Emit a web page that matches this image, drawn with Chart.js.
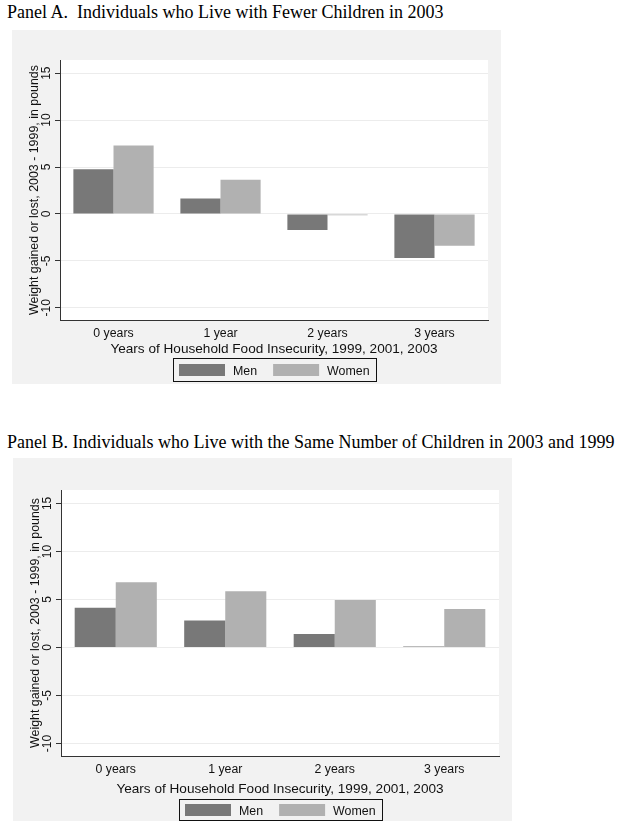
<!DOCTYPE html>
<html>
<head>
<meta charset="utf-8">
<script src="https://cdn.jsdelivr.net/npm/chart.js"></script>
<style>
  body { margin: 0; background: #fff; width: 621px; height: 829px; position: relative; overflow: hidden; }
  .ttl { position: absolute; left: 7px; font-family: "Liberation Serif", "Times New Roman", serif; font-size: 18px; line-height: 20px; white-space: pre; color: #000; }
  canvas { position: absolute; }
</style>
</head>
<body>
<div class="ttl" style="top:2px">Panel A.  Individuals who Live with Fewer Children in 2003</div>
<canvas id="panelA" width="489" height="354" style="left:12px;top:30px"></canvas>
<div class="ttl" style="top:432px">Panel B. Individuals who Live with the Same Number of Children in 2003 and 1999</div>
<canvas id="panelB" width="499" height="363" style="left:13px;top:458px"></canvas>
<script>
const categories = ["0 years", "1 year", "2 years", "3 years"];
const seriesNames = ["Men", "Women"];
// panel A: fewer children in 2003
const menA = [4.75, 1.65, -1.7, -4.7];
const womenA = [7.3, 3.65, -0.15, -3.4];
// panel B: same number of children
const menB = [4.15, 2.8, 1.4, 0.1];
const womenB = [6.8, 5.85, 4.95, 4.0];
const yTicks = [-10, -5, 0, 5, 10, 15];
const yTitle = "Weight gained or lost, 2003 - 1999, in pounds";
const xTitle = "Years of Household Food Insecurity, 1999, 2001, 2003";

Chart.defaults.font.family = '"Liberation Sans", Arial, sans-serif';

// stata-ish look: gray frame, rotated y labels, x title and boxed legend
const decor = {
  id: "decor",
  beforeDraw(chart) {
    const ctx = chart.ctx, a = chart.chartArea;
    ctx.save();
    ctx.fillStyle = "#f2f2f2";
    ctx.fillRect(0, 0, chart.width, chart.height);
    ctx.fillStyle = "#fff";
    ctx.fillRect(a.left, a.top, a.right - a.left, a.bottom - a.top);
    ctx.restore();
  },
  afterDraw(chart, args, opts) {
    const ctx = chart.ctx, a = chart.chartArea, y = chart.scales.y;
    ctx.save();
    ctx.fillStyle = "#111";
    ctx.textAlign = "center";
    ctx.textBaseline = "alphabetic";
    ctx.font = '12px "Liberation Sans"';
    y.ticks.forEach(t => {
      ctx.save();
      ctx.translate(a.left - 10, y.getPixelForValue(t.value));
      ctx.rotate(-Math.PI / 2);
      ctx.fillText(String(t.value), 0, 0);
      ctx.restore();
    });
    ctx.font = '12.4px "Liberation Sans"';
    ctx.save();
    ctx.translate(a.left - 22, (a.top + a.bottom) / 2);
    ctx.rotate(-Math.PI / 2);
    ctx.fillText(yTitle, 0, 0);
    ctx.restore();

    ctx.font = '13.6px "Liberation Sans"';
    ctx.fillText(xTitle, (a.left + a.right) / 2, a.bottom + opts.xTitleBase);

    // legend
    ctx.font = '12.4px "Liberation Sans"';
    const sw = 46, sh = 12, pad = 6, gap = 8, itemGap = 16;
    const ds = chart.data.datasets;
    let w = pad * 2;
    ds.forEach((d, i) => { w += sw + gap + ctx.measureText(d.label).width + (i ? itemGap : 0); });
    const lx = Math.round((a.left + a.right) / 2 - w / 2), ly = Math.round(a.bottom + opts.legendTop), lh = opts.legendH;
    ctx.strokeStyle = "#111";
    ctx.lineWidth = 1;
    ctx.strokeRect(lx + 0.5, ly + 0.5, Math.round(w), Math.round(lh));
    let x = lx + pad;
    ctx.textAlign = "left";
    ds.forEach((d, i) => {
      if (i) x += itemGap;
      ctx.fillStyle = d.backgroundColor;
      ctx.fillRect(x, Math.round(ly + (lh - sh) / 2 + 0.5), sw, sh);
      x += sw + gap;
      ctx.fillStyle = "#111";
      ctx.fillText(d.label, x, ly + lh / 2 + 5);
      x += ctx.measureText(d.label).width;
    });
    ctx.restore();
  }
};

function makePanel(id, men, women, lay) {
  return new Chart(document.getElementById(id), {
    type: "bar",
    data: {
      labels: categories,
      datasets: [
        { label: seriesNames[0], data: men, backgroundColor: "#787878" },
        { label: seriesNames[1], data: women, backgroundColor: "#b1b1b1" }
      ]
    },
    options: {
      responsive: false,
      animation: false,
      devicePixelRatio: 1,
      layout: { padding: { top: lay.top, right: 13, left: 0, bottom: 0 } },
      datasets: { bar: { categoryPercentage: 0.75, barPercentage: 1 } },
      plugins: { legend: { display: false }, tooltip: { enabled: false }, decor: lay },
      scales: {
        x: {
          grid: { color: "transparent", drawTicks: false },
          border: { color: "#333" },
          ticks: { color: "#111", font: { size: 12.3 }, padding: 6 },
          afterFit: s => { s.height = lay.below; }
        },
        y: {
          min: -11.3,
          max: 16.4,
          afterBuildTicks: s => { s.ticks = yTicks.map(v => ({ value: v })); },
          grid: { color: "#ececec", tickColor: "#333", tickLength: 5 },
          border: { color: "#333" },
          ticks: { display: false },
          afterFit: s => { s.width = 48; }
        }
      }
    },
    plugins: [decor]
  });
}

makePanel("panelA", menA, womenA, { top: 30, below: 64, xTitleBase: 33.3, legendTop: 38.3, legendH: 23 });
makePanel("panelB", menB, womenB, { top: 32, below: 65, xTitleBase: 36.7, legendTop: 42.5, legendH: 21 });
</script>
</body>
</html>
